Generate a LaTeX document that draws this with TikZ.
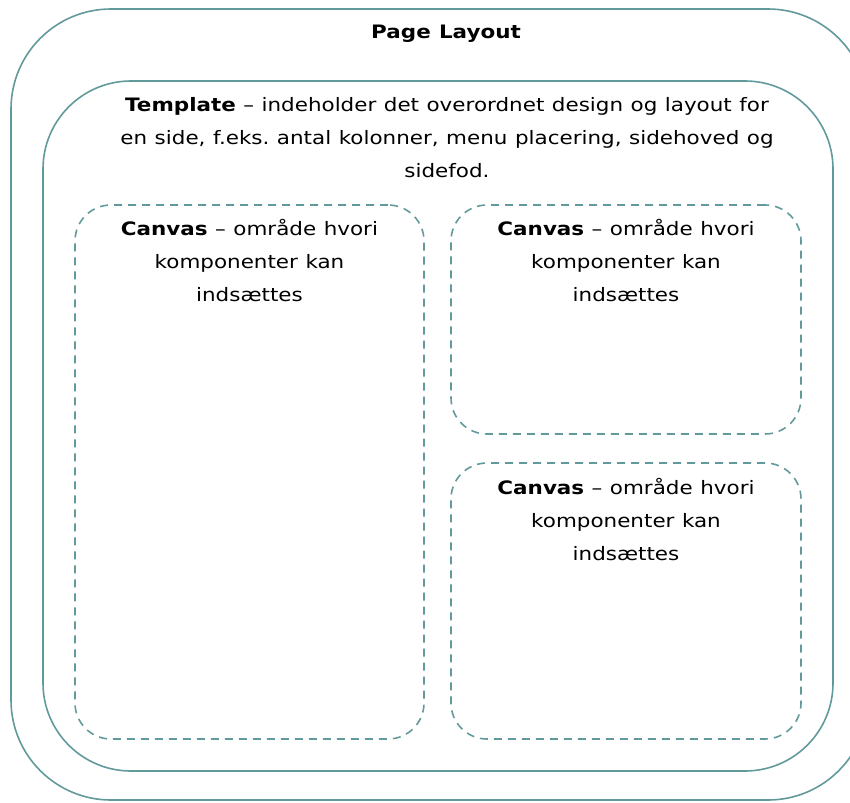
\documentclass[tikz,border=0pt]{standalone}
\usepackage{fontspec}
\setmainfont[FakeStretch=1.16,WordSpace=1.1]{DejaVu Sans}
\definecolor{frame}{RGB}{98,154,156}
\begin{document}
\begin{tikzpicture}[x=1pt,y=-1pt,
  solidbox/.style={draw=frame, line width=1.6pt, rectangle, inner sep=0pt},
  dashbox/.style={draw=frame, line width=1.6pt, rectangle, inner sep=0pt,
    dash pattern=on 8pt off 6pt, rounded corners=36pt},
  txt/.style={inner sep=0pt, align=center,
    font=\fontsize{18.5}{33}\selectfont\frenchspacing}]
\useasboundingbox (0,0) rectangle (850,802);
% page frame, its right edge running past the border
\node[solidbox, rounded corners=100pt, minimum width=857pt, minimum height=791pt]
  (page) at (439.5,404.5) {};
% template frame
\node[solidbox, rounded corners=88pt, minimum width=790pt, minimum height=690pt]
  (template) at (438,426) {};
% canvas areas
\node[dashbox, minimum width=349pt, minimum height=534pt] (canvasA) at (249.5,472) {};
\node[dashbox, minimum width=350pt, minimum height=229pt] (canvasB) at (626,319.5) {};
\node[dashbox, minimum width=350pt, minimum height=276pt] (canvasC) at (626,601) {};
% texts
\node[txt] (pagetitle) at (446,34) {\textbf{Page Layout}};
\node[txt] (templatetext) at (447,137.5)
  {\textbf{Template} – indeholder det overordnet design og layout for\\
   en side, f.eks. antal kolonner, menu placering, sidehoved og\\
   sidefod.};
\node[txt] (canvasAtext) at (249.5,260.5)
  {\textbf{Canvas} – område hvori\\komponenter kan\\indsættes};
\node[txt] (canvasBtext) at (626,260.5)
  {\textbf{Canvas} – område hvori\\komponenter kan\\indsættes};
\node[txt] (canvasCtext) at (626,519.5)
  {\textbf{Canvas} – område hvori\\komponenter kan\\indsættes};
\end{tikzpicture}
\end{document}
